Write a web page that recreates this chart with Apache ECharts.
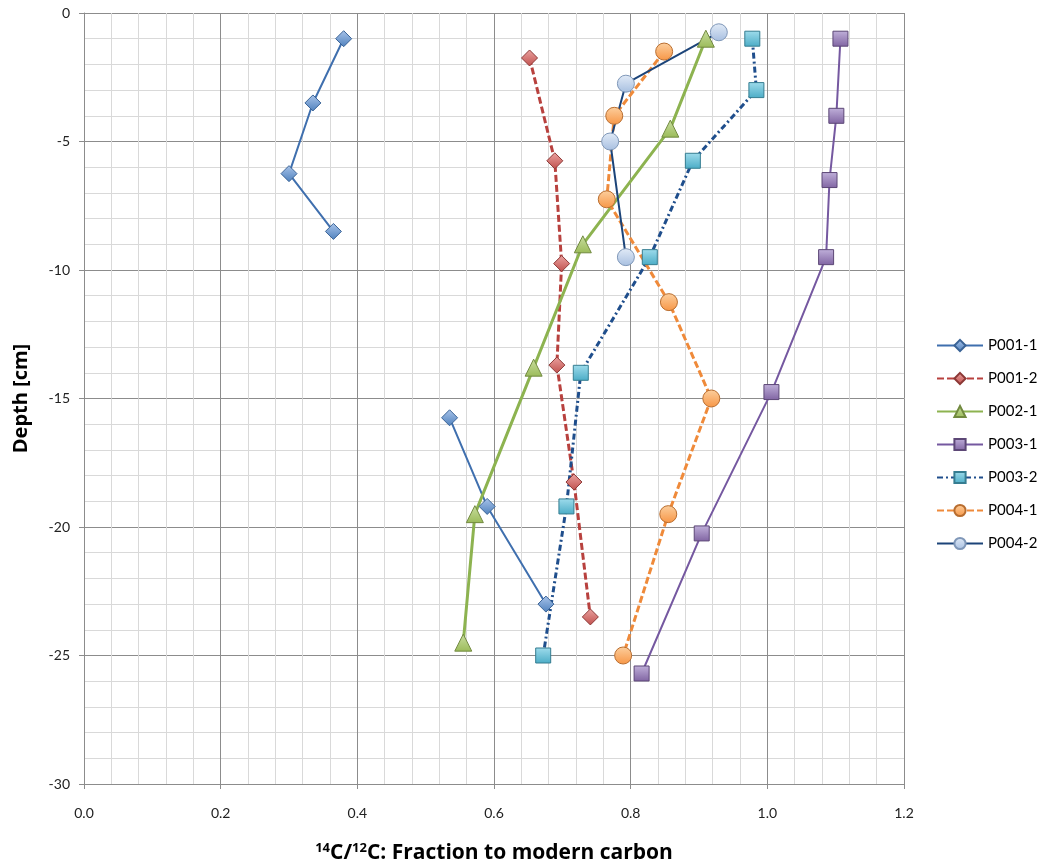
<!DOCTYPE html>
<html lang="en">
<head>
  <meta charset="UTF-8">
  <title>14C/12C depth profiles</title>
  <script src="https://cdn.jsdelivr.net/npm/echarts/dist/echarts.min.js"></script>
  <style>
    body { margin: 0; background: #fff; }
    #chart { width: 1040px; height: 867px; }
  </style>
</head>
<body>
<div id="chart"></div>
<script>
// x = fraction modern carbon, y = depth [cm]; '-' breaks the line
const p001_1 = [[0.38, -1], [0.335, -3.5], [0.30, -6.25], [0.365, -8.5], ['-', '-'],
                [0.535, -15.75], [0.59, -19.2], [0.676, -23]];
const p001_2 = [[0.652, -1.75], [0.689, -5.75], [0.699, -9.75], [0.692, -13.7], [0.717, -18.25], [0.741, -23.5]];
const p002_1 = [[0.91, -1], [0.858, -4.5], [0.73, -9], [0.658, -13.8], [0.572, -19.5], [0.555, -24.5]];
const p003_1 = [[1.107, -1], [1.101, -4], [1.091, -6.5], [1.086, -9.5], [1.006, -14.75], [0.904, -20.25], [0.816, -25.7]];
const p003_2 = [[0.978, -1], [0.984, -3], [0.891, -5.75], [0.828, -9.5], [0.727, -14], [0.706, -19.2], [0.672, -25]];
const p004_1 = [[0.849, -1.5], [0.776, -4], [0.765, -7.25], [0.856, -11.25], [0.918, -15], [0.855, -19.5], [0.789, -25]];
const p004_2 = [[0.929, -0.75], [0.793, -2.75], [0.77, -5], [0.793, -9.5]];

const xTicks = { min: 0, max: 1.2, step: 0.2 };
const yTicks = { min: -30, max: 0, step: 5 };

const font = 'Lato, "Open Sans", sans-serif';
const titleFont = '"Open Sans", sans-serif';

function glossy(light, base) {
  return {
    type: 'linear', x: 0, y: 0, x2: 0, y2: 1,
    colorStops: [{ offset: 0, color: light }, { offset: 1, color: base }]
  };
}

function mk(name, data, lineColor, width, dash, symbol, size, light, base, border) {
  return {
    name: name,
    type: 'line',
    data: data,
    symbol: symbol,
    symbolSize: size,
    connectNulls: false,
    lineStyle: { color: lineColor, width: width, type: dash },
    itemStyle: { color: glossy(light, base), borderColor: border, borderWidth: 1 }
  };
}

const chart = echarts.init(document.getElementById('chart'));
chart.setOption({
  animation: false,
  textStyle: { fontFamily: font },
  grid: { left: 84, top: 13, width: 820, height: 771, containLabel: false, outerBoundsMode: 'none' },
  legend: {
    orient: 'vertical',
    left: 931,
    top: 333,
    itemWidth: 46,
    itemHeight: 14,
    itemGap: 18,
    textStyle: { fontSize: 15, color: '#000', fontFamily: font }
  },
  xAxis: {
    type: 'value',
    min: xTicks.min, max: xTicks.max, interval: xTicks.step,
    name: '{sup|14}{b|C/}{sup|12}{b|C: Fraction to modern carbon}',
    nameLocation: 'middle',
    nameGap: 58,
    nameTextStyle: {
      fontSize: 21, fontWeight: 'bold', color: '#000', fontFamily: titleFont,
      rich: {
        b: { fontSize: 21, fontWeight: 'bold', color: '#000', fontFamily: titleFont, verticalAlign: 'bottom' },
        sup: { fontSize: 13, fontWeight: 'bold', color: '#000', fontFamily: titleFont, verticalAlign: 'bottom', padding: [0, 0, 9, 0] }
      }
    },
    axisLine: { onZero: false, lineStyle: { color: '#8c8c8c' } },
    axisTick: { show: true, length: 5, lineStyle: { color: '#8c8c8c' } },
    axisLabel: { margin: 22, fontSize: 14, color: '#222', formatter: v => v.toFixed(1) },
    splitLine: { lineStyle: { color: '#8c8c8c', width: 1 } },
    minorTick: { show: false, splitNumber: 5 },
    minorSplitLine: { show: true, lineStyle: { color: '#d9d9d9', width: 1 } }
  },
  yAxis: {
    type: 'value',
    min: yTicks.min, max: yTicks.max, interval: yTicks.step,
    name: 'Depth [cm]',
    nameLocation: 'middle',
    nameGap: 53,
    nameTextStyle: { fontSize: 20, fontWeight: 'bold', color: '#000', fontFamily: titleFont },
    axisLine: { show: true, onZero: false, lineStyle: { color: '#8c8c8c' } },
    axisTick: { show: true, length: 5, lineStyle: { color: '#8c8c8c' } },
    axisLabel: { margin: 14, fontSize: 14, color: '#222' },
    splitLine: { lineStyle: { color: '#8c8c8c', width: 1 } },
    minorTick: { show: false, splitNumber: 5 },
    minorSplitLine: { show: true, lineStyle: { color: '#d9d9d9', width: 1 } }
  },
  series: [
    mk('P001-1', p001_1, '#3f6fae', 2, 'solid', 'diamond', 16, '#a9c4ea', '#4f81bd', '#3a6396'),
    mk('P001-2', p001_2, '#b8413e', 3, [7, 3], 'diamond', 16, '#eba3a1', '#c0504d', '#8c3836'),
    mk('P002-1', p002_1, '#8db350', 3, 'solid', 'triangle', 17, '#c9dea0', '#9bbb59', '#71893f'),
    mk('P003-1', p003_1, '#7558a0', 2, 'solid', 'rect', 15, '#c0b0da', '#8064a2', '#5c4776'),
    mk('P003-2', p003_2, '#1f4e8c', 3, [6, 3, 2, 3], 'rect', 15, '#9fdcec', '#4bacc6', '#357d91'),
    mk('P004-1', p004_1, '#ef8a3a', 3, [7, 3], 'circle', 17, '#fccf9e', '#f79646', '#b86d2f'),
    mk('P004-2', p004_2, '#1c4479', 2, 'solid', 'circle', 17, '#e2ebf7', '#a7bfe0', '#7f97b8')
  ]
});
</script>
</body>
</html>
